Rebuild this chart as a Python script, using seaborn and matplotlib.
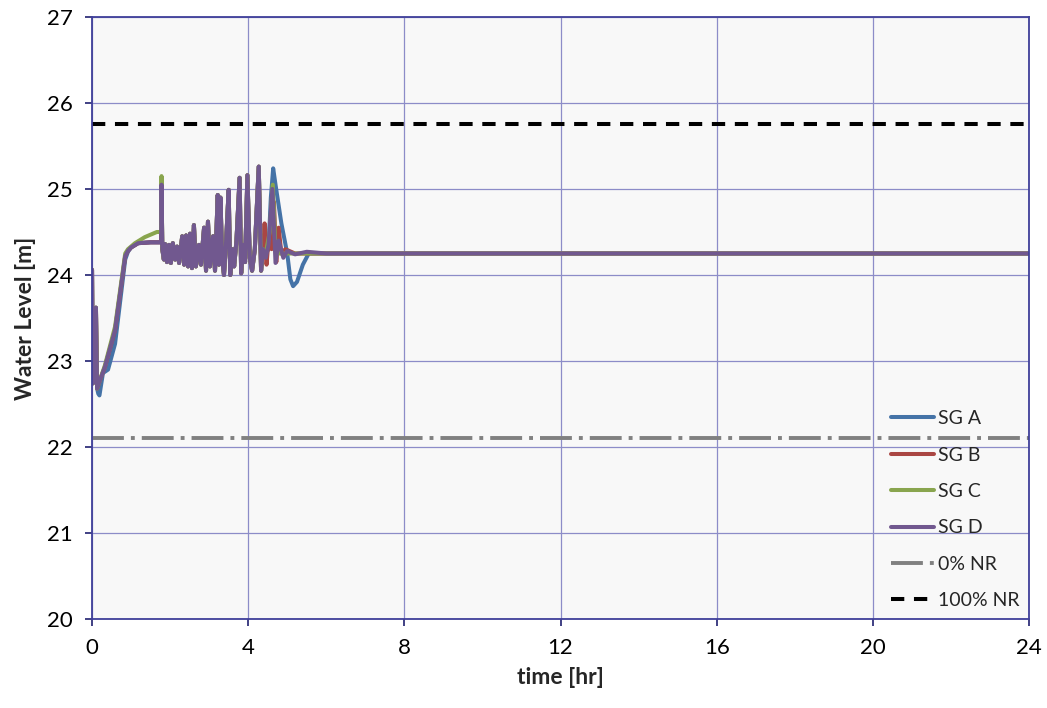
import matplotlib
matplotlib.use("Agg")
import matplotlib.pyplot as plt
import seaborn as sns
import pandas as pd

# Water level traces (time [hr], level [m])
start = [(0.00, 24.06), (0.02, 22.74), (0.07, 22.85), (0.10, 23.62), (0.13, 22.68)]
rise_d = [(0.18, 22.75), (0.33, 22.93), (0.59, 23.36), (0.85, 24.22), (0.92, 24.28),
          (1.00, 24.32), (1.18, 24.37), (1.50, 24.38), (1.77, 24.38)]
rise_a = [(0.16, 22.62), (0.19, 22.60), (0.28, 22.86), (0.41, 22.90), (0.59, 23.20),
          (0.85, 24.18), (0.92, 24.27), (1.00, 24.32), (1.18, 24.37), (1.50, 24.38),
          (1.77, 24.38)]
rise_c = [(0.18, 22.75), (0.33, 22.95), (0.59, 23.40), (0.85, 24.25), (0.92, 24.30),
          (1.10, 24.37), (1.35, 24.44), (1.66, 24.50), (1.77, 24.50)]

osc = [(1.80, 24.30), (1.84, 24.18), (1.87, 24.36), (1.92, 24.15), (1.97, 24.35),
       (2.02, 24.14), (2.07, 24.37), (2.13, 24.18), (2.18, 24.33), (2.23, 24.14),
       (2.31, 24.45), (2.36, 24.12), (2.41, 24.46), (2.46, 24.10), (2.51, 24.48),
       (2.56, 24.08), (2.61, 24.58), (2.66, 24.10), (2.74, 24.35), (2.79, 24.12),
       (2.87, 24.55), (2.92, 24.05), (2.97, 24.62), (3.02, 24.10), (3.10, 24.45),
       (3.15, 24.05), (3.22, 24.93), (3.25, 24.12), (3.29, 24.90), (3.33, 24.20),
       (3.38, 24.00), (3.43, 24.35), (3.50, 24.99), (3.54, 24.00), (3.60, 24.30),
       (3.64, 24.10), (3.70, 24.40), (3.78, 25.13), (3.82, 24.02), (3.87, 24.35),
       (3.92, 24.15), (3.98, 25.16), (4.04, 24.20), (4.10, 24.05), (4.17, 24.30),
       (4.27, 25.26), (4.33, 24.05), (4.38, 24.30)]

tail_a = [(4.45, 24.25), (4.52, 24.30), (4.58, 24.90), (4.64, 25.24), (4.70, 25.05),
          (4.85, 24.60), (5.00, 24.25), (5.08, 23.95), (5.15, 23.87), (5.25, 23.92),
          (5.40, 24.12), (5.55, 24.25), (6.00, 24.25), (24.0, 24.25)]
tail_b = [(4.40, 24.25), (4.42, 24.60), (4.47, 24.12), (4.52, 24.40), (4.60, 24.30),
          (4.66, 24.85), (4.72, 24.15), (4.78, 24.55), (4.85, 24.25), (4.95, 24.30),
          (5.20, 24.25), (24.0, 24.25)]
tail_c = [(4.45, 24.25), (4.55, 24.50), (4.63, 25.05), (4.70, 24.30), (4.80, 24.25),
          (24.0, 24.25)]
tail_d = [(4.45, 24.20), (4.52, 24.35), (4.62, 25.00), (4.70, 24.14), (4.78, 24.40),
          (4.90, 24.20), (5.00, 24.28), (5.20, 24.24), (5.50, 24.27), (6.00, 24.25),
          (24.0, 24.25)]

sg_a = start + rise_a + [(1.78, 25.05)] + osc + tail_a
sg_b = start + rise_d + [(1.78, 25.05)] + osc + tail_b
sg_c = start + rise_c + [(1.78, 25.15)] + osc + tail_c
sg_d = start + rise_d + [(1.78, 25.05)] + osc + tail_d

level_0 = 22.1    # 0% NR
level_100 = 25.76  # 100% NR
t_range = [0, 24]

series = {"SG A": (sg_a, "#4573a7"), "SG B": (sg_b, "#aa4643"),
          "SG C": (sg_c, "#89a54e"), "SG D": (sg_d, "#71588f")}

sns.set_theme(style="ticks")
plt.rcParams["font.family"] = ["Lato", "DejaVu Sans"]

fig = plt.figure(figsize=(10.47, 7.08), dpi=100)
ax = fig.add_axes([0.0879, 0.1257, 0.8949, 0.8503])
ax.set_facecolor("#f8f8f8")

for name, (pts, col) in series.items():
    df = pd.DataFrame(pts, columns=["t", "level"])
    sns.lineplot(data=df, x="t", y="level", ax=ax, color=col, lw=2.9,
                 estimator=None, sort=False, label=name)

sns.lineplot(x=t_range, y=[level_0, level_0], ax=ax, color="#808080", lw=2.8,
             linestyle=(0, (8.2, 1.8, 1, 1.8)), label="0% NR")
sns.lineplot(x=t_range, y=[level_100, level_100], ax=ax, color="black", lw=2.9,
             linestyle=(0, (3.3, 2.4)), label="100% NR")

ax.set_xlim(0, 24)
ax.set_ylim(20, 27)
ax.set_xticks(range(0, 25, 4))
ax.set_yticks(range(20, 28))
ax.grid(True, color="#8c8cc8", lw=0.9)
ax.set_axisbelow(True)
for s in ax.spines.values():
    s.set_color("#40409a")
    s.set_linewidth(1.3)
ax.tick_params(direction="out", length=5, width=1.2, color="#202070",
               labelsize=16, pad=9, labelcolor="black")

ax.set_xlabel("time [hr]", fontsize=16.5, fontweight="bold", labelpad=6)
ax.set_ylabel("Water Level [m]", fontsize=16.5, fontweight="bold", labelpad=8)

ax.legend(loc="lower right", bbox_to_anchor=(1.0, 0.0), frameon=False,
          fontsize=14, handlelength=2.2, handletextpad=0.2, labelspacing=1.0,
          borderaxespad=0.1)

plt.savefig("out.png", dpi=100)
